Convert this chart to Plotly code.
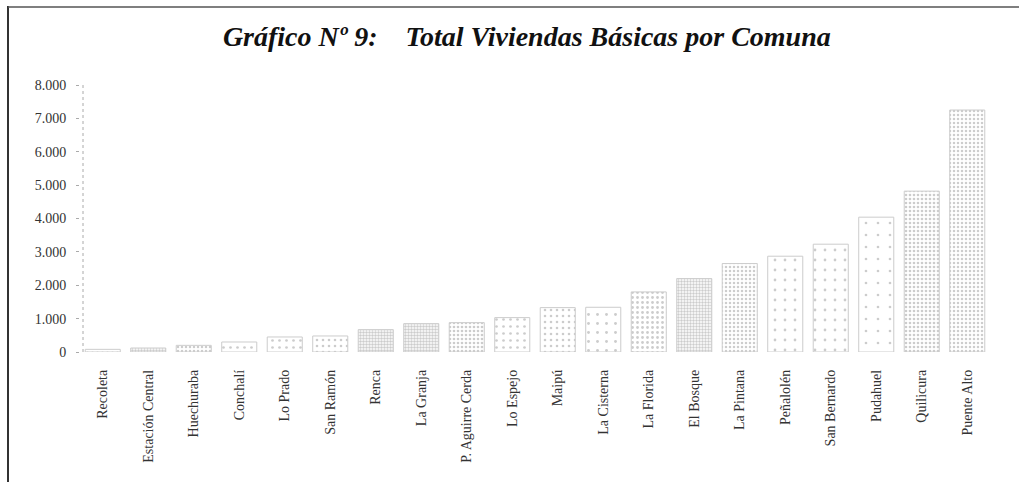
import plotly.graph_objects as go

# ---- data ----
comunas = ["Recoleta", "Estación Central", "Huechuraba", "Conchalí", "Lo Prado",
           "San Ramón", "Renca", "La Granja", "P. Aguirre Cerda", "Lo Espejo",
           "Maipú", "La Cisterna", "La Florida", "El Bosque", "La Pintana",
           "Peñalolén", "San Bernardo", "Pudahuel", "Quilicura", "Puente Alto"]
viviendas = [80, 120, 200, 300, 450, 480, 670, 850, 880, 1030,
             1330, 1340, 1800, 2200, 2650, 2870, 3230, 4040, 4820, 7250]
y_tickvals = [0, 1000, 2000, 3000, 4000, 5000, 6000, 7000, 8000]
y_ticktext = ["0", "1.000", "2.000", "3.000", "4.000", "5.000", "6.000", "7.000", "8.000"]
title_text = "Gráfico Nº 9:\u00a0\u00a0\u00a0\u00a0Total Viviendas Básicas por Comuna"

# ---- style ----
W, H = 1019, 482
L, R, T, B = 80, 29, 85, 130
pat_size = [5, 3, 4, 7, 7, 6, 3, 3, 4, 7, 6, 9, 5, 3, 4, 10, 10, 12, 4, 4]
pat_solid = [0.15, 0.5, 0.3, 0.12, 0.12, 0.15, 0.55, 0.55, 0.35, 0.12,
             0.15, 0.08, 0.25, 0.5, 0.3, 0.06, 0.06, 0.04, 0.35, 0.3]
pat_color = ["#9a9a9a"] * 20

fig = go.Figure(go.Bar(
    x=comunas, y=viviendas,
    marker=dict(
        color="white",
        line=dict(color="#cccccc", width=1),
        pattern=dict(shape=".", fgcolor=pat_color, bgcolor="white",
                     size=pat_size, solidity=pat_solid, fillmode="overlay"),
    ),
    hoverinfo="x+y",
))

pw = W - L - R
ph = H - T - B


def px_x(x):
    return (x - L) / pw


def px_y(y):
    return (H - B - y) / ph


shapes = [
    # frame lines (scanned page border)
    dict(type="line", xref="paper", yref="paper", x0=px_x(8), x1=px_x(8),
         y0=px_y(6), y1=px_y(482), line=dict(color="#333", width=2)),
    dict(type="line", xref="paper", yref="paper", x0=px_x(8), x1=px_x(1019),
         y0=px_y(7), y1=px_y(7), line=dict(color="#555", width=1.5)),
    # dotted y axis line
    dict(type="line", xref="paper", yref="paper", x0=px_x(83), x1=px_x(83),
         y0=0, y1=1, line=dict(color="#aaa", width=1, dash="dot")),
]

fig.update_layout(
    width=W, height=H,
    margin=dict(l=L, r=R, t=T, b=B, autoexpand=False),
    paper_bgcolor="white", plot_bgcolor="white",
    font=dict(family="Liberation Serif", color="#222"),
    title=dict(text=title_text, x=0.517, xanchor="center", y=1 - 36 / H,
               yanchor="middle",
               font=dict(family="Liberation Serif", size=28, color="#111",
                         weight="bold", style="italic")),
    bargap=0.23,
    showlegend=False,
    shapes=shapes,
    xaxis=dict(showgrid=False, showline=False, zeroline=False, ticks="",
               tickangle=-90, tickfont=dict(size=14, color="#333"),
               ticklabelstandoff=14, fixedrange=True),
    yaxis=dict(range=[0, 8000], tickvals=y_tickvals, ticktext=y_ticktext,
               showgrid=False, zeroline=False, showline=False,
               ticks="outside", ticklen=3, tickcolor="#aaa",
               tickfont=dict(size=14, color="#333"), ticklabelstandoff=7,
               fixedrange=True),
)

fig.write_html("out.html",
               config={"displayModeBar": False},
               post_script="document.body.style.margin='0';document.body.style.overflow='hidden';")
